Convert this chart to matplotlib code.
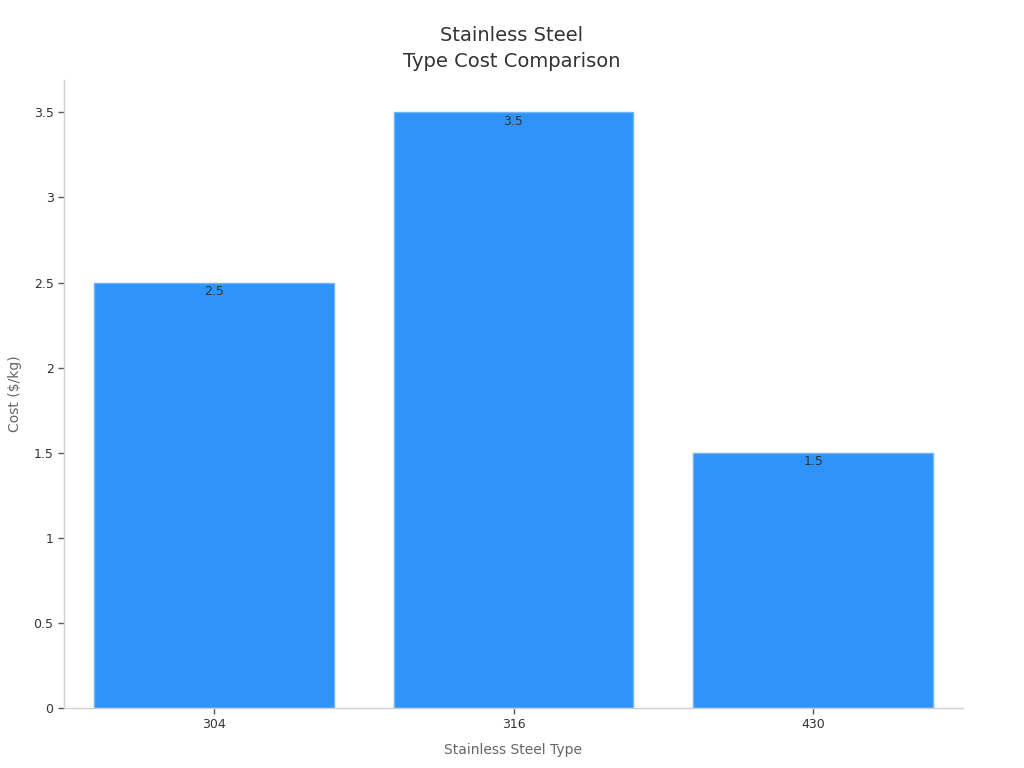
import matplotlib
matplotlib.use("Agg")
import matplotlib.pyplot as plt
from matplotlib.ticker import FuncFormatter

categories = ["304", "316", "430"]
costs = [2.5, 3.5, 1.5]
yticks = [0, 0.5, 1, 1.5, 2, 2.5, 3, 3.5]

fig = plt.figure(figsize=(10.24, 7.68), dpi=100)
ax = fig.add_axes([64/1024, 60/768, 899/1024, 628/768])

x = list(range(len(categories)))
bars = ax.bar(x, costs, width=0.8, color="#2E93FA", edgecolor="#6fb4f8", linewidth=1)
for xi, v in zip(x, costs):
    ax.text(xi, v - 0.015, f"{v:g}", ha="center", va="top", fontsize=9, color="#333333")

ax.set_xlim(-0.5, 2.5)
ax.set_ylim(0, 3.69)
ax.set_xticks(x)
ax.set_xticklabels(categories)
ax.set_yticks(yticks)
ax.yaxis.set_major_formatter(FuncFormatter(lambda v, p: f"{v:g}"))
ax.tick_params(axis="both", labelsize=9, colors="#333333", length=4, width=1)
ax.tick_params(axis="both", color="#555555")
for s in ["top", "right"]:
    ax.spines[s].set_visible(False)
for s in ["left", "bottom"]:
    ax.spines[s].set_color("#d0d0d0")
    ax.spines[s].set_linewidth(1)

ax.set_xlabel("Stainless Steel Type", fontsize=10, color="#666666", labelpad=8)
ax.set_ylabel("Cost ($/kg)", fontsize=10, color="#666666", labelpad=8)
fig.suptitle("Stainless Steel\nType Cost Comparison", fontsize=14, color="#333333", y=0.966, linespacing=1.45)

fig.savefig("out.png", dpi=100)
